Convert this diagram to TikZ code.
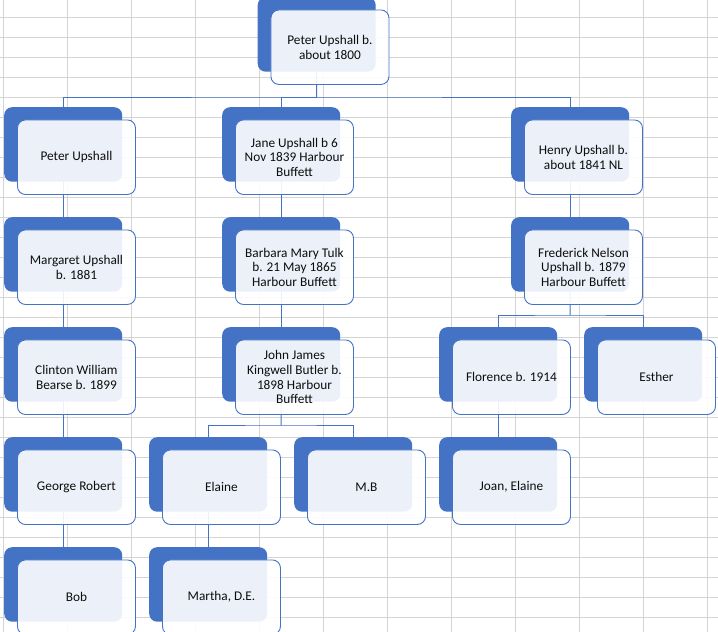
\documentclass[tikz,border=0pt]{standalone}
\usepackage{fontspec}
\setmainfont{Carlito}
\definecolor{sblue}{HTML}{4472C4}
\definecolor{gridc}{HTML}{D4D4D4}
\definecolor{txt}{HTML}{0D0D0D}
\pgfdeclarelayer{gridlayer}
\pgfdeclarelayer{connlayer}
\pgfsetlayers{gridlayer,connlayer,main}
\tikzset{
  backbox/.style={fill=sblue, rounded corners=8pt, minimum width=118pt,
    minimum height=74.5pt, inner sep=0pt, anchor=north west},
  frontbox/.style={fill=white, fill opacity=0.9, text opacity=1, draw=sblue,
    line width=0.9pt, rounded corners=8pt, minimum width=118pt,
    minimum height=74.5pt, inner sep=0pt, anchor=north west, align=center,
    text=txt, font=\fontsize{13.3pt}{14.6pt}\selectfont},
  conn/.style={draw=sblue, line width=1pt},
  gridline/.style={draw=gridc, line width=0.9pt}
}
\newcommand\person[4]{%
  \node[backbox] (#1B) at (#2,#3) {};
  \node[frontbox] (#1) at (#2+13,#3+12.5) {#4};}
\begin{document}
\begin{tikzpicture}[x=1pt,y=-1pt]
\useasboundingbox (0,0) rectangle (718,632);
\begin{pgfonlayer}{gridlayer}
  \fill[white] (0,0) rectangle (718,632);
  \foreach \k in {0,...,30} \draw[gridline] (0,17+20*\k) -- (718,17+20*\k);
  \foreach \k in {0,...,11} \draw[gridline] (3.3+64*\k,0) -- (3.3+64*\k,632);
\end{pgfonlayer}

\person{root}{257.5}{-3}{Peter Upshall b.\\ about 1800}
\person{peter}{4}{107}{Peter Upshall}
\person{jane}{222}{107}{Jane Upshall b 6\\ Nov 1839 Harbour\\ Buffett}
\person{henry}{511}{107}{Henry Upshall b.\\ about 1841 NL}
\person{marg}{4}{217}{Margaret Upshall\\ b. 1881}
\person{barb}{222}{217}{Barbara Mary Tulk\\ b. 21 May 1865\\ Harbour Buffett}
\person{fred}{511}{217}{Frederick Nelson\\ Upshall b. 1879\\ Harbour Buffett}
\person{clin}{4}{327}{Clinton William\\ Bearse b. 1899}
\person{john}{222}{327}{John James\\ Kingwell Butler b.\\ 1898 Harbour\\ Buffett}
\person{flor}{439}{327}{Florence b. 1914}
\person{esth}{584}{327}{Esther}
\person{geo}{4}{437}{George Robert}
\person{elai}{149}{437}{Elaine}
\person{mb}{294}{437}{M.B}
\person{joan}{439}{437}{Joan, Elaine}
\person{bob}{4}{547}{Bob}
\person{mart}{149}{547}{Martha, D.E.}

\coordinate (bus0) at (316.5,97);
\coordinate (bus1) at (281,425);
\coordinate (bus2) at (570,315);
\begin{pgfonlayer}{connlayer}
  \draw[conn] (rootB.center) -- (bus0);
  \draw[conn] (peterB.center) |- (bus0) -| (henryB.center);
  \draw[conn] (janeB.center) |- (bus0);
  \draw[conn] (peterB.center) -- (bobB.center);
  \draw[conn] (janeB.center) -- (johnB.center);
  \draw[conn] (henryB.center) -- (fredB.center);
  \draw[conn] (johnB.center) -- (bus1);
  \draw[conn] (elaiB.center) |- (bus1) -| (mbB.center);
  \draw[conn] (elaiB.center) -- (martB.center);
  \draw[conn] (fredB.center) -- (bus2);
  \draw[conn] (florB.center) |- (bus2) -| (esthB.center);
  \draw[conn] (florB.center) -- (joanB.center);
\end{pgfonlayer}
\end{tikzpicture}
\end{document}
